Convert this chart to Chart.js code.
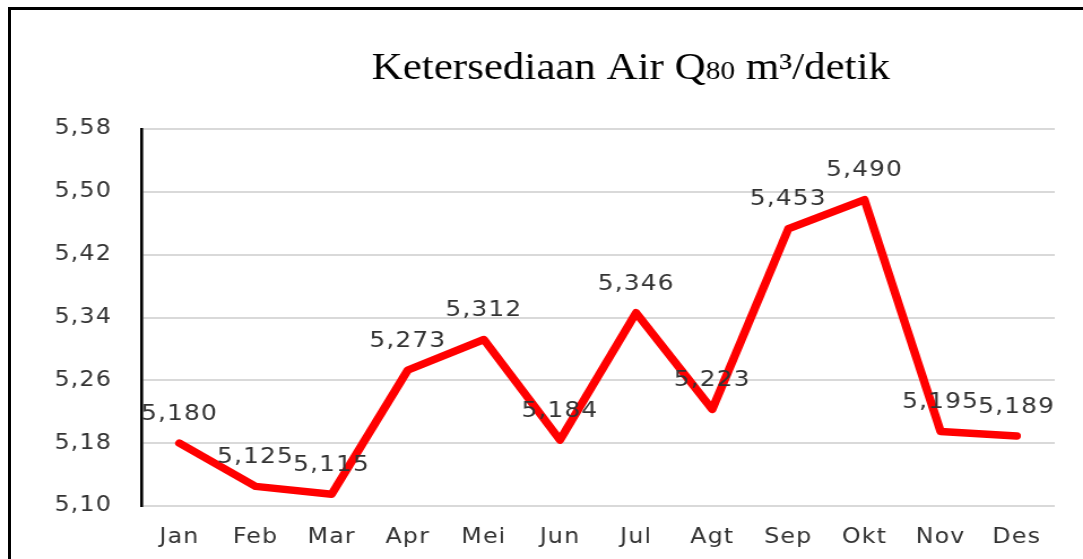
<!DOCTYPE html>
<html>
<head>
<meta charset="utf-8">
<script src="https://cdn.jsdelivr.net/npm/chart.js@4"></script>
<style>
  html, body { margin: 0; padding: 0; background: #fff; }
  #wrap { position: relative; width: 1083px; height: 559px; overflow: hidden; }
  /* the original picture is stretched a little sideways */
  #stretch { position: absolute; left: 0; top: 0; width: 958px; height: 559px;
             transform: scaleX(1.1305); transform-origin: 0 0; }
  #frame { position: absolute; left: 8px; top: 7px; right: -10px; bottom: -10px;
           border-left: 3px solid #000; border-top: 3px solid #000; pointer-events: none; }
</style>
</head>
<body>
<div id="wrap">
  <div id="stretch"><canvas id="chart" width="958" height="559"></canvas></div>
  <div id="frame"></div>
</div>
<script>
// data
const months = ['Jan', 'Feb', 'Mar', 'Apr', 'Mei', 'Jun', 'Jul', 'Agt', 'Sep', 'Okt', 'Nov', 'Des'];
const q80 = [5.180, 5.125, 5.115, 5.273, 5.312, 5.184, 5.346, 5.223, 5.453, 5.490, 5.195, 5.189];
const yMin = 5.10;
const yMax = 5.58;
const yStep = 0.08;

// title parts: main text, small "80", rest
const titleParts = [
  { text: 'Ketersediaan Air Q', size: 38 },
  { text: '80', size: 26 },
  { text: ' m\u00b3/detik', size: 38 }
];

const fmt = (v, d) => v.toFixed(d).replace('.', ',');

// a little letter spacing for the sans text
const spacingPlugin = {
  id: 'spacing',
  beforeUpdate(chart) { chart.ctx.letterSpacing = '1px'; },
  beforeDraw(chart) { chart.ctx.letterSpacing = '1px'; }
};

// title with a smaller "80"
const titlePlugin = {
  id: 'mixedTitle',
  afterDraw(chart) {
    const ctx = chart.ctx;
    ctx.save();
    ctx.letterSpacing = '0px';
    ctx.fillStyle = '#000';
    ctx.textBaseline = 'alphabetic';
    let total = 0;
    const widths = titleParts.map(p => {
      ctx.font = p.size + 'px "Liberation Serif", "Times New Roman", serif';
      const w = ctx.measureText(p.text).width;
      total += w;
      return w;
    });
    let x = 558 - total / 2;
    const y = 79;
    titleParts.forEach((p, i) => {
      ctx.font = p.size + 'px "Liberation Serif", "Times New Roman", serif';
      ctx.fillText(p.text, x, y);
      x += widths[i];
    });
    ctx.restore();
  }
};

// value labels above each point
const labelPlugin = {
  id: 'valueLabels',
  afterDatasetsDraw(chart) {
    const ctx = chart.ctx;
    const meta = chart.getDatasetMeta(0);
    ctx.save();
    ctx.font = '22px "DejaVu Sans", sans-serif';
    ctx.fillStyle = '#333333';
    ctx.textAlign = 'center';
    ctx.textBaseline = 'middle';
    meta.data.forEach((pt, i) => {
      ctx.fillText(fmt(q80[i], 3), pt.x, pt.y - 29);
    });
    ctx.restore();
  }
};

new Chart(document.getElementById('chart'), {
  type: 'line',
  data: {
    labels: months,
    datasets: [{
      data: q80,
      borderColor: '#ff0000',
      borderWidth: 7.5,
      borderJoinStyle: 'round',
      borderCapStyle: 'round',
      pointRadius: 0,
      tension: 0,
      fill: false
    }]
  },
  options: {
    responsive: false,
    animation: false,
    layout: { padding: { top: 129, right: 25, bottom: 0, left: 0 } },
    plugins: {
      legend: { display: false },
      title: { display: false },
      tooltip: { enabled: false }
    },
    scales: {
      x: {
        offset: true,
        grid: { display: false, drawTicks: false },
        border: { display: false },
        ticks: {
          color: '#333333',
          font: { family: '"DejaVu Sans", sans-serif', size: 21 },
          padding: 19,
          maxRotation: 0
        },
        afterFit(scale) { scale.height = 53; }
      },
      y: {
        min: yMin,
        max: yMax,
        grid: { color: '#d9d9d9', lineWidth: 2, drawTicks: false },
        border: { display: true, color: '#000', width: 2.6 },
        ticks: {
          stepSize: yStep,
          color: '#333333',
          font: { family: '"DejaVu Sans", sans-serif', size: 21 },
          padding: 26,
          callback: v => fmt(v, 2)
        },
        afterFit(scale) { scale.width = 125; }
      }
    }
  },
  plugins: [spacingPlugin, labelPlugin, titlePlugin]
});
</script>
</body>
</html>
